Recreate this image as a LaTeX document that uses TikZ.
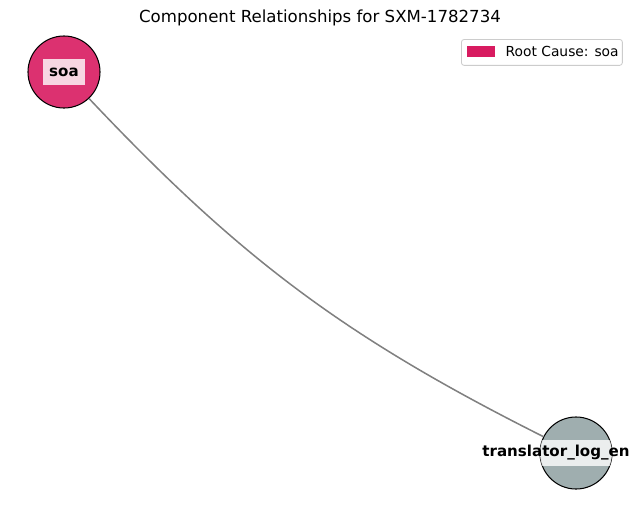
\documentclass[tikz,border=0pt]{standalone}
\usepackage{fontspec}
\setmainfont{DejaVu Sans}
\usepackage{xcolor}
\definecolor{rootpink}{HTML}{D81B60}
\definecolor{compgray}{HTML}{95A5A6}
\definecolor{edgegray}{RGB}{128,128,128}
\usetikzlibrary{positioning}

\begin{document}
\begin{tikzpicture}[x=0.0254cm, y=-0.0254cm,
  comp/.style={
    circle, minimum size=1.83cm, inner sep=0pt,
    draw=black, line width=0.75pt,
    fill opacity=0.9
  },
  complabel/.style={
    rectangle, fill=white, fill opacity=0.8, text opacity=1,
    inner xsep=4.5pt, inner ysep=0pt, minimum height=0.66cm,
    font=\fontsize{10.9}{13}\selectfont\bfseries
  },
  link/.style={draw=edgegray, line width=1.1pt}
]
\useasboundingbox (0,0) rectangle (640,504);

% title
\node[font=\fontsize{12}{14}\selectfont] (title) at (320,18) {Component Relationships for SXM-1782734};

% components
\node[comp, fill=rootpink] (soa) at (64,72) {};
\node[comp, fill=compgray] (trans) at (576,453) {};

\draw[link] (soa) to[bend right=10] (trans);

\begin{scope}
\clip (trans) circle (0.915cm);
\node[complabel] (translbl) at (556,453) {\phantom{translator\_log\_en}};
\end{scope}
\node[complabel] (soalbl) at (soa) {soa};
\node[complabel, fill opacity=0] at (translbl) {translator\_log\_en};

% legend
\node[draw=black!20, rounded corners=2pt, line width=0.6pt, fill=white,
  anchor=north west, inner sep=0pt,
  minimum width=4.09cm, minimum height=0.66cm] (legend) at (461,39) {};
\node[fill=rootpink, inner sep=0pt, minimum width=0.71cm, minimum height=0.28cm,
  anchor=west] (legpatch) at (467,51.5) {};
\node[font=\fontsize{10}{12}\selectfont, anchor=west, inner sep=0pt,
  right=0.25cm of legpatch] (legtext) {Root Cause: soa};
\end{tikzpicture}
\end{document}
